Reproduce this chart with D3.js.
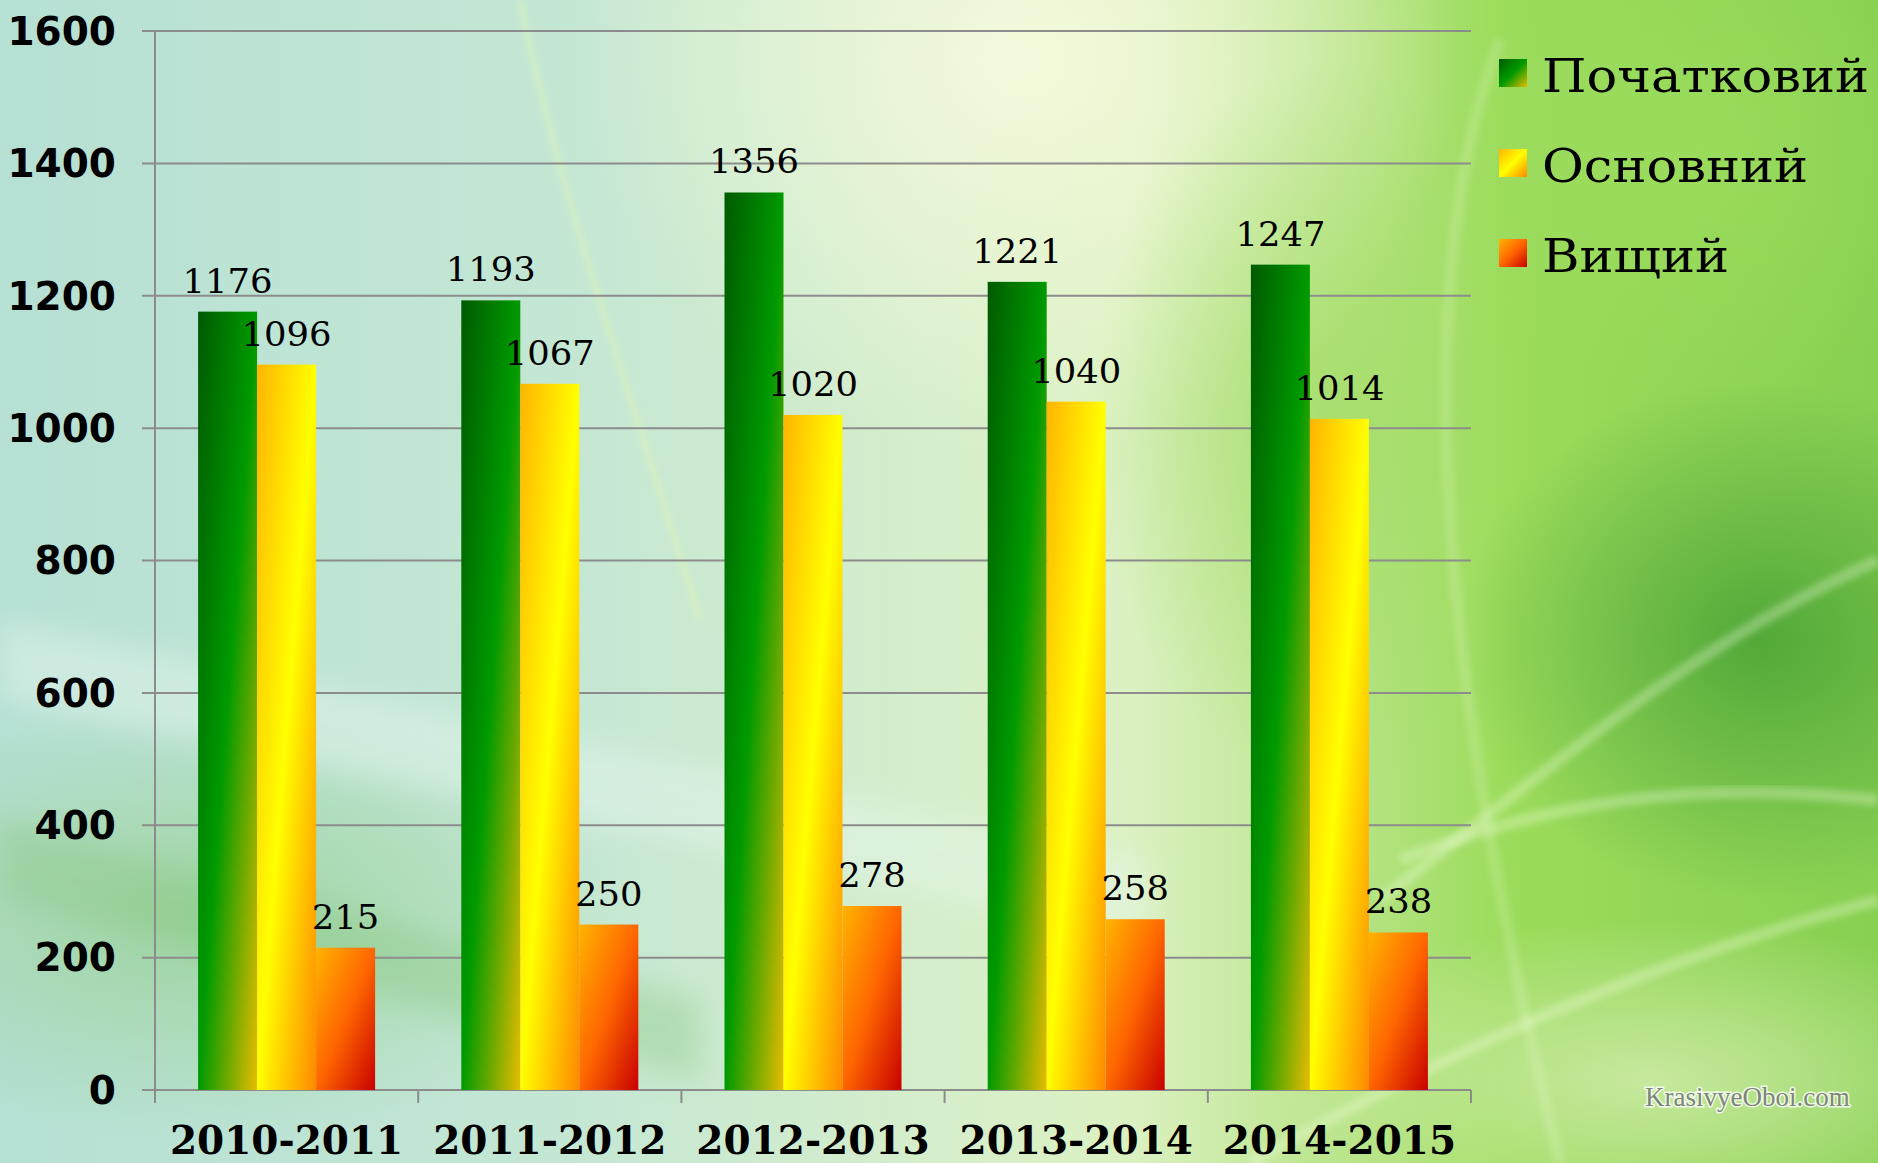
<!DOCTYPE html>
<html><head><meta charset="utf-8">
<script src="https://cdn.jsdelivr.net/npm/d3@7"></script>
<style>html,body{margin:0;padding:0;overflow:hidden;background:#c0e4d4}svg{display:block}</style>
</head><body><svg id="c" width="1878" height="1163"></svg>
<script>
const categories = ["2010-2011", "2011-2012", "2012-2013", "2013-2014", "2014-2015"];
const seriesNames = ["Початковий", "Основний", "Вищий"];
const initialValues = [1176, 1193, 1356, 1221, 1247];
const basicValues = [1096, 1067, 1020, 1040, 1014];
const higherValues = [215, 250, 278, 258, 238];
const yTicks = [0, 200, 400, 600, 800, 1000, 1200, 1400, 1600];
const watermark = "KrasivyeOboi.com";

const seriesValues = [initialValues, basicValues, higherValues];
const gradStops = [
  [["0", "#005a00"], ["0.5", "#009a00"], ["0.75", "#72aa00"], ["1", "#e8bc00"]],
  [["0", "#ffb400"], ["0.5", "#ffff00"], ["1", "#ff8800"]],
  [["0", "#ffb400"], ["0.5", "#ff6600"], ["1", "#c80000"]]
];

const W = 1878, H = 1163;
const svg = d3.select("#c");
const defs = svg.append("defs");

// ---------- background ----------
const bg = defs.append("linearGradient").attr("id", "bgBase").attr("x1", 0).attr("y1", 0).attr("x2", 1).attr("y2", 0);
[["0", "#b6e0d4"], ["0.3", "#c4e7d4"], ["0.5", "#d6eecb"], ["0.6", "#dcf1c2"], ["0.7", "#bde690"], ["0.8", "#9cdc5c"], ["1", "#88d052"]]
  .forEach(s => bg.append("stop").attr("offset", s[0]).attr("stop-color", s[1]));
function radial(id, color, op) {
  const g = defs.append("radialGradient").attr("id", id);
  g.append("stop").attr("offset", "0").attr("stop-color", color).attr("stop-opacity", op);
  g.append("stop").attr("offset", "1").attr("stop-color", color).attr("stop-opacity", 0);
}
radial("rTop", "#f4fadc", 0.95);
radial("rDark", "#3f9a30", 0.75);
radial("rBL", "#8fcc86", 0.65);
radial("rBR", "#d4edb0", 0.8);
radial("rMid", "#a0dc62", 0.7);
radial("rTR", "#9ede5e", 0.7);
defs.append("filter").attr("id", "blur").append("feGaussianBlur").attr("stdDeviation", 14);
defs.append("filter").attr("id", "blur2").append("feGaussianBlur").attr("stdDeviation", 3);

const bgG = svg.append("g");
bgG.append("rect").attr("width", W).attr("height", H).attr("fill", "url(#bgBase)");
bgG.append("ellipse").attr("cx", 1020).attr("cy", 60).attr("rx", 440).attr("ry", 400).attr("fill", "url(#rTop)");
bgG.append("ellipse").attr("cx", 1700).attr("cy", 150).attr("rx", 260).attr("ry", 260).attr("fill", "url(#rTR)");
bgG.append("ellipse").attr("cx", 1330).attr("cy", 420).attr("rx", 240).attr("ry", 360).attr("fill", "url(#rMid)");
bgG.append("ellipse").attr("cx", 1760).attr("cy", 640).attr("rx", 300).attr("ry", 260).attr("fill", "url(#rDark)");
bgG.append("ellipse").attr("cx", 200).attr("cy", 920).attr("rx", 420).attr("ry", 220).attr("fill", "url(#rBL)");
bgG.append("ellipse").attr("cx", 1650).attr("cy", 1080).attr("rx", 400).attr("ry", 160).attr("fill", "url(#rBR)");
// light diagonal band
bgG.append("path").attr("d", "M0,620 L1150,860 L1150,940 L0,700 Z").attr("fill", "#e6f6ee").attr("opacity", 0.45).attr("filter", "url(#blur)");
bgG.append("path").attr("d", "M0,820 L700,1000 L700,1080 L0,900 Z").attr("fill", "#86c67c").attr("opacity", 0.35).attr("filter", "url(#blur)");
// soft curves on the right
const curves = [
  "M1400,860 C1550,800 1700,780 1878,800",
  "M1380,900 C1560,760 1700,640 1878,560",
  "M1500,40 C1420,250 1420,600 1560,1163",
  "M1250,1163 C1450,1050 1650,960 1878,900",
  "M520,0 C560,200 640,420 700,620"
];
curves.forEach((d, i) => bgG.append("path").attr("d", d).attr("fill", "none")
  .attr("stroke", i === 4 ? "#e8f8b0" : "#f4ffe0").attr("stroke-width", i === 4 ? 4 : 12)
  .attr("opacity", i === 4 ? 0.6 : (i === 2 ? 0.18 : 0.3)).attr("filter", "url(#blur2)"));

// ---------- scales ----------
const x0 = d3.scaleBand().domain(categories).range([155, 1471]).paddingInner(0.3275).paddingOuter(0.16375);
const x1 = d3.scaleBand().domain(seriesNames).range([0, x0.bandwidth()]);
const y = d3.scaleLinear().domain([0, 1600]).range([1090, 31]);

// gradients for series
seriesNames.forEach((s, i) => {
  const g = defs.append("linearGradient").attr("id", "g" + i).attr("x1", 0).attr("y1", 0).attr("x2", 1).attr("y2", 1);
  gradStops[i].forEach(st => g.append("stop").attr("offset", st[0]).attr("stop-color", st[1]));
});

// ---------- gridlines & axes ----------
const grid = svg.append("g");
grid.selectAll("line").data(yTicks).join("line")
  .attr("x1", 142).attr("x2", 1471).attr("y1", d => y(d)).attr("y2", d => y(d))
  .attr("stroke", "#8c8c8c").attr("stroke-width", 2);

svg.append("line").attr("x1", 155).attr("x2", 155).attr("y1", y(1600)).attr("y2", 1103)
  .attr("stroke", "#8c8c8c").attr("stroke-width", 2);

const yAxis = svg.append("g").attr("transform", "translate(116,0)")
  .call(d3.axisLeft(y).tickValues(yTicks).tickSize(0).tickPadding(0).tickFormat(d3.format("d")));
yAxis.select(".domain").remove();
yAxis.selectAll("text").attr("font-family", "DejaVu Sans").attr("font-weight", "bold")
  .attr("font-size", 39).attr("fill", "#000").attr("dy", "0.34em");

const xTickPos = categories.map(c => x0(c) - x0.step() * x0.paddingInner() / 2).concat([1471]);
svg.append("g").selectAll("line").data(xTickPos).join("line")
  .attr("x1", d => d).attr("x2", d => d).attr("y1", 1090).attr("y2", 1103)
  .attr("stroke", "#8c8c8c").attr("stroke-width", 2);

const xAxis = svg.append("g").attr("transform", "translate(0,1090)")
  .call(d3.axisBottom(x0).tickSize(0).tickPadding(0));
xAxis.select(".domain").remove();
xAxis.selectAll("text").attr("font-family", "DejaVu Serif").attr("font-weight", "bold")
  .attr("font-size", 39).attr("fill", "#000").attr("dy", "0").attr("y", 64);

// ---------- bars ----------
const groups = svg.append("g").selectAll("g").data(categories).join("g")
  .attr("transform", c => `translate(${x0(c)},0)`);
const cells = groups.selectAll("g").data((c, ci) => seriesNames.map((s, si) => ({ s, si, v: seriesValues[si][ci] })))
  .join("g");
cells.append("rect")
  .attr("x", d => x1(d.s)).attr("width", x1.bandwidth())
  .attr("y", d => y(d.v)).attr("height", d => y(0) - y(d.v))
  .attr("fill", d => `url(#g${d.si})`);
cells.append("text")
  .attr("transform", d => `translate(${x1(d.s) + x1.bandwidth() / 2},${y(d.v) - 19}) scale(1.04,1)`)
  .attr("text-anchor", "middle").attr("font-family", "DejaVu Serif").attr("font-size", 34)
  .attr("fill", "#000").text(d => d.v);

// ---------- legend ----------
const legend = svg.append("g").selectAll("g").data(seriesNames).join("g")
  .attr("transform", (d, i) => `translate(1499,${59 + i * 90})`);
legend.append("rect").attr("width", 28).attr("height", 28).attr("fill", (d, i) => `url(#g${i})`);
legend.append("text").attr("transform", "translate(43,33) scale(1.11,1)").attr("font-family", "DejaVu Serif")
  .attr("font-size", 46).attr("fill", "#000").text(d => d);

// ---------- watermark ----------
svg.append("text").attr("x", 1645).attr("y", 1106).attr("font-family", "Liberation Serif")
  .attr("font-size", 27).attr("fill", "#7b8876").attr("stroke", "#ffffff").attr("stroke-width", 3)
  .attr("paint-order", "stroke").attr("stroke-opacity", 0.8).text(watermark);
</script></body></html>
